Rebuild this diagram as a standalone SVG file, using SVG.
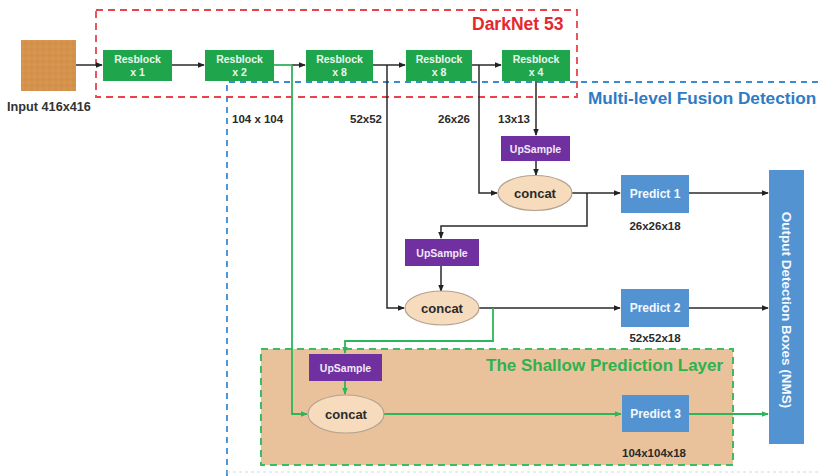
<svg xmlns="http://www.w3.org/2000/svg" width="818" height="476" viewBox="0 0 818 476">
  <defs>
    <marker id="ah-black" viewBox="0 0 8 8" refX="7" refY="4" markerWidth="7" markerHeight="7" markerUnits="userSpaceOnUse" orient="auto">
      <path d="M0,0.8 L8,4 L0,7.2 Z" fill="#222"/>
    </marker>
    <marker id="ah-green" viewBox="0 0 8 8" refX="7" refY="4" markerWidth="7" markerHeight="7" markerUnits="userSpaceOnUse" orient="auto">
      <path d="M0,0.8 L8,4 L0,7.2 Z" fill="#2DB55A"/>
    </marker>
    <pattern id="grain" width="6" height="6" patternUnits="userSpaceOnUse">
      <rect width="6" height="6" fill="#D4924D"/>
      <rect x="0" y="0" width="3" height="3" fill="#D28F4A"/>
      <rect x="3" y="3" width="3" height="3" fill="#D69651"/>
    </pattern>
  </defs>
  <style>
    text { font-family: "Liberation Sans", Arial, sans-serif; font-weight: bold; }
    .res { fill: #1FA64C; }
    .res-t { fill: #E9F7EC; font-size: 10.5px; text-anchor: middle; }
    .up { fill: #7030A0; }
    .up-t { fill: #F1E8F8; font-size: 10.5px; text-anchor: middle; }
    .pred { fill: #5393D2; }
    .pred-t { fill: #F3F8FD; font-size: 12px; text-anchor: middle; }
    .out-t { fill: #F3F8FD; font-size: 13.5px; text-anchor: middle; }
    .cc { fill: #F6DCBC; stroke: #B3A290; stroke-width: 1.2; }
    .cc-t { fill: #2A2A2A; font-size: 13px; text-anchor: middle; }
    .lbl { fill: #2A2A2A; font-size: 11.5px; }
    .blk { fill: none; stroke: #2A2A2A; stroke-width: 1.5; }
    .grn { fill: none; stroke: #2DB55A; stroke-width: 1.8; }
  </style>

  <rect width="818" height="476" fill="#FFFFFF"/>

  <!-- Shallow prediction region -->
  <g id="shallow-layer">
    <rect x="261" y="349" width="472" height="116" fill="#E9C29C" stroke="#3DBB62" stroke-width="2" stroke-dasharray="7,5"/>
    <text x="486" y="371" fill="#2DB24E" font-size="17px">The Shallow Prediction Layer</text>
  </g>

  <!-- Multi-level fusion region -->
  <g id="fusion-region">
    <path d="M818,82 H227 V476" fill="none" stroke="#3B8BD3" stroke-width="1.8" stroke-dasharray="6,5"/>
    <path d="M227,472 H818" fill="none" stroke="#C9DDF0" stroke-width="1.2" stroke-dasharray="3,3"/>
    <text x="588" y="104" fill="#2F7BC4" font-size="17.2px">Multi-level Fusion Detection</text>
  </g>

  <!-- Backbone region -->
  <g id="darknet-region">
    <rect x="96" y="10" width="481" height="87" fill="none" stroke="#E8444C" stroke-width="1.8" stroke-dasharray="7,5"/>
    <text x="472" y="30" fill="#E5272E" font-size="17.5px">DarkNet 53</text>
  </g>

  <!-- Connectors -->
  <g id="connectors">
    <path class="blk" d="M76,65 H102" marker-end="url(#ah-black)"/>
    <path class="blk" d="M172,65 H204" marker-end="url(#ah-black)"/>
    <path class="grn" d="M274,65 H292"/>
    <path class="blk" d="M292,65 H305" marker-end="url(#ah-black)"/>
    <path class="blk" d="M373,65 H405" marker-end="url(#ah-black)"/>
    <path class="blk" d="M472,65 H501" marker-end="url(#ah-black)"/>
    <!-- skip paths from the backbone -->
    <path class="grn" d="M292,65 V414 H307" marker-end="url(#ah-green)"/>
    <path class="blk" d="M387,65 V308 H404" marker-end="url(#ah-black)"/>
    <path class="blk" d="M479,65 V193 H497" marker-end="url(#ah-black)"/>
    <path class="blk" d="M536,81 V135" marker-end="url(#ah-black)"/>
    <path class="blk" d="M536,161 V175" marker-end="url(#ah-black)"/>
    <!-- scale 1 -->
    <path class="blk" d="M572,193 H620" marker-end="url(#ah-black)"/>
    <path class="blk" d="M587,193 V226 H441 V238" marker-end="url(#ah-black)"/>
    <path class="blk" d="M441,266 V291" marker-end="url(#ah-black)"/>
    <!-- scale 2 -->
    <path class="blk" d="M479,308 H620" marker-end="url(#ah-black)"/>
    <path class="grn" d="M493,308 V341 H345 V353" marker-end="url(#ah-green)"/>
    <path class="grn" d="M345,381 V394" marker-end="url(#ah-green)"/>
    <!-- scale 3 -->
    <path class="grn" d="M384,414 H621" marker-end="url(#ah-green)"/>
    <!-- to output -->
    <path class="blk" d="M689,193 H768" marker-end="url(#ah-black)"/>
    <path class="blk" d="M689,308 H768" marker-end="url(#ah-black)"/>
    <path class="grn" d="M689,414 H768" marker-end="url(#ah-green)"/>
  </g>

  <g id="input">
    <rect x="21" y="40" width="55" height="51" fill="url(#grain)"/>
    <text x="7" y="111" fill="#333" font-size="12.7px">Input 416x416</text>
  </g>

  <g id="resblock-1">
    <rect class="res" x="103" y="50" width="69" height="31"/>
    <text class="res-t" x="137.5" y="63">Resblock</text>
    <text class="res-t" x="137.5" y="76">x 1</text>
  </g>
  <g id="resblock-2">
    <rect class="res" x="205" y="50" width="69" height="31"/>
    <text class="res-t" x="239.5" y="63">Resblock</text>
    <text class="res-t" x="239.5" y="76">x 2</text>
  </g>
  <g id="resblock-3">
    <rect class="res" x="306" y="50" width="67" height="31"/>
    <text class="res-t" x="339.5" y="63">Resblock</text>
    <text class="res-t" x="339.5" y="76">x 8</text>
  </g>
  <g id="resblock-4">
    <rect class="res" x="406" y="50" width="66" height="31"/>
    <text class="res-t" x="439" y="63">Resblock</text>
    <text class="res-t" x="439" y="76">x 8</text>
  </g>
  <g id="resblock-5">
    <rect class="res" x="502" y="50" width="68" height="31"/>
    <text class="res-t" x="536" y="63">Resblock</text>
    <text class="res-t" x="536" y="76">x 4</text>
  </g>

  <g id="scale-labels">
    <text class="lbl" x="232" y="123">104 x 104</text>
    <text class="lbl" x="350" y="123">52x52</text>
    <text class="lbl" x="438" y="123">26x26</text>
    <text class="lbl" x="498" y="123">13x13</text>
  </g>

  <g id="upsample-1">
    <rect class="up" x="501" y="136" width="69" height="25"/>
    <text class="up-t" x="535.5" y="152.5">UpSample</text>
  </g>
  <g id="concat-1">
    <ellipse class="cc" cx="535" cy="193" rx="37" ry="17.5"/>
    <text class="cc-t" x="535" y="197.5">concat</text>
  </g>
  <g id="predict-1">
    <rect class="pred" x="621" y="175" width="68" height="38"/>
    <text class="pred-t" x="655" y="198">Predict 1</text>
    <text class="lbl" x="655" y="230" text-anchor="middle">26x26x18</text>
  </g>

  <g id="upsample-2">
    <rect class="up" x="405" y="239" width="74" height="27"/>
    <text class="up-t" x="442" y="256.5">UpSample</text>
  </g>
  <g id="concat-2">
    <ellipse class="cc" cx="442" cy="308" rx="37" ry="17"/>
    <text class="cc-t" x="442" y="312.5">concat</text>
  </g>
  <g id="predict-2">
    <rect class="pred" x="621" y="289" width="68" height="38"/>
    <text class="pred-t" x="655" y="312">Predict 2</text>
    <text class="lbl" x="655" y="342" text-anchor="middle">52x52x18</text>
  </g>

  <g id="upsample-3">
    <rect class="up" x="309" y="354" width="73" height="27"/>
    <text class="up-t" x="345.5" y="371.5">UpSample</text>
  </g>
  <g id="concat-3">
    <ellipse class="cc" cx="346" cy="414" rx="38" ry="19"/>
    <text class="cc-t" x="346" y="418.5">concat</text>
  </g>
  <g id="predict-3">
    <rect class="pred" x="622" y="395" width="67" height="37"/>
    <text class="pred-t" x="655.5" y="418">Predict 3</text>
    <text class="lbl" x="654" y="457" text-anchor="middle">104x104x18</text>
  </g>

  <g id="output">
    <rect class="pred" x="769" y="170" width="35" height="274"/>
    <text class="out-t" transform="translate(782,310) rotate(90)" x="0" y="0">Output Detection Boxes (NMS)</text>
  </g>
</svg>
